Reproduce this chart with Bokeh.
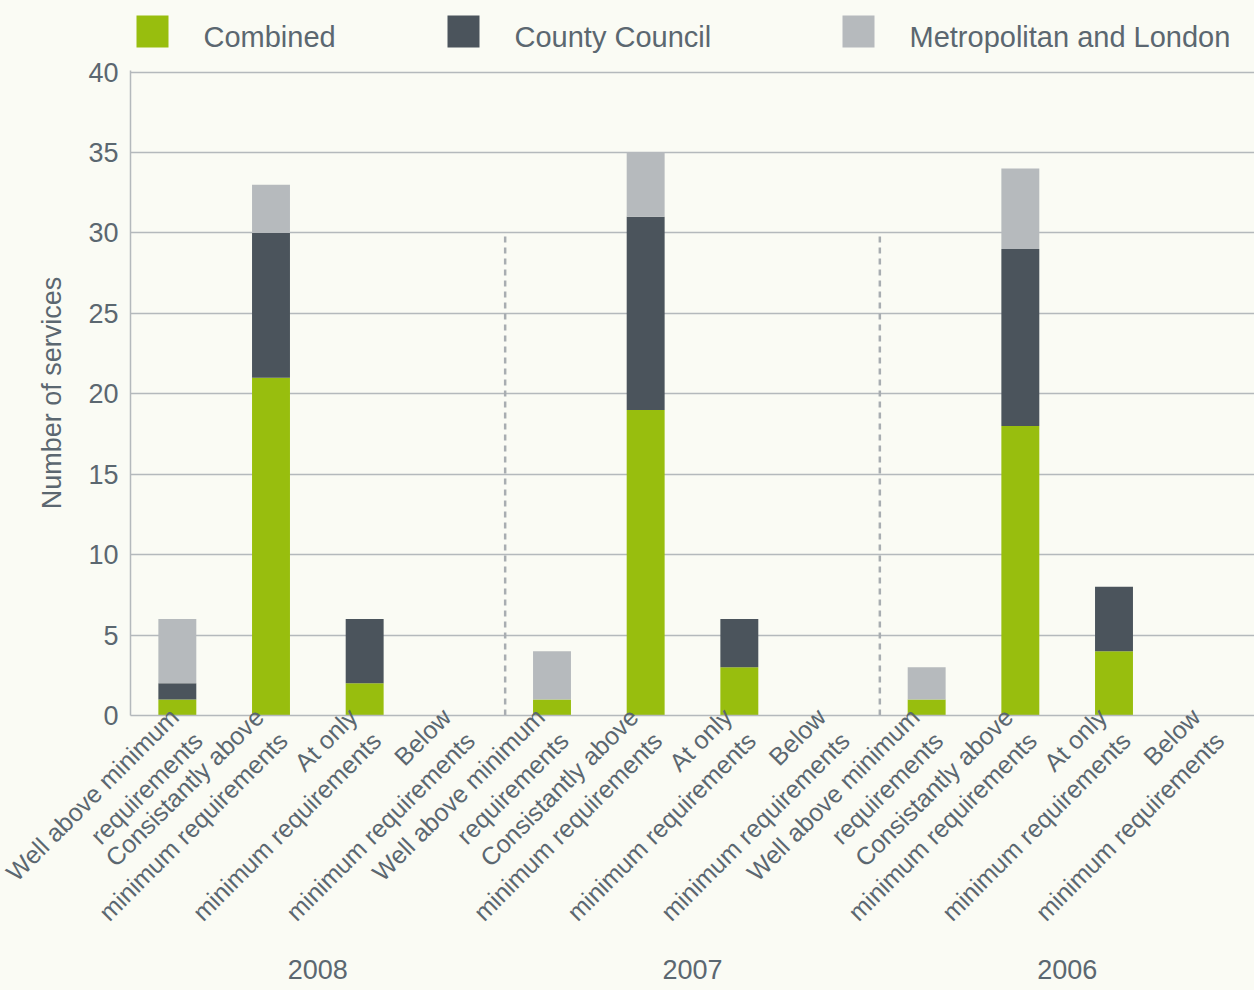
import math
from bokeh.plotting import figure
from bokeh.layouts import column
from bokeh.models import ColumnDataSource, Range1d, FactorRange, FixedTicker
from bokeh.embed import file_html
from bokeh.resources import INLINE
from bokeh.core.properties import value

# ---------------- data ----------------
years = ["2008", "2007", "2006"]
categories = [
    "Well above minimum\nrequirements",
    "Consistantly above\nminimum requirements",
    "At only\nminimum requirements",
    "Below\nminimum requirements",
]
series_names = ["Combined", "County Council", "Metropolitan and London"]
combined = [1, 21, 2, 0, 1, 19, 3, 0, 1, 18, 4, 0]
county_council = [1, 9, 4, 0, 0, 12, 3, 0, 0, 11, 4, 0]
metropolitan_london = [4, 3, 0, 0, 3, 4, 0, 0, 2, 5, 0, 0]
y_ticks = [0, 5, 10, 15, 20, 25, 30, 35, 40]

# ---------------- style ----------------
BG = "#fafbf4"
TEXT = "#5b6770"
GRID = "#b4b9bc"
COLORS = ["#98be0e", "#4b545c", "#b6babd"]
FONT = "Liberation Sans"
W = 1254
H = 990
LEG_H = 56
FRAME_LEFT = 130
LEGEND_X = [136, 447, 842]      # left edge of each legend swatch (px)
SWATCH = 32
LABEL_GAP = 35

# ---------------- legend strip ----------------
lg = figure(width=W, height=LEG_H, x_range=Range1d(FRAME_LEFT, W),
            y_range=Range1d(LEG_H, 0), output_backend="svg", toolbar_location=None,
            x_axis_type=None, y_axis_type=None, min_border=0,
            min_border_left=FRAME_LEFT, outline_line_color=None,
            background_fill_color=BG, border_fill_color=BG)
lg.xgrid.visible = False
lg.ygrid.visible = False
lsrc = ColumnDataSource(dict(
    left=LEGEND_X,
    right=[x + SWATCH for x in LEGEND_X],
    top=[15] * len(series_names),
    bottom=[15 + SWATCH] * len(series_names),
    tx=[x + SWATCH + LABEL_GAP for x in LEGEND_X],
    ty=[36] * len(series_names),
    name=series_names,
    color=COLORS,
))
lg.quad(left="left", right="right", top="top", bottom="bottom", fill_color="color",
        line_color=None, source=lsrc)
lg.text(x="tx", y="ty", text="name", source=lsrc, text_align="left",
        text_baseline="middle", text_font=value(FONT), text_font_size="29px",
        text_color=TEXT)

# ---------------- main chart ----------------
factors = [(y, c) for y in years for c in categories]

src = ColumnDataSource(dict(
    x=factors,
    combined=combined,
    county=county_council,
    metro=metropolitan_london,
))

x_range = FactorRange(*factors, factor_padding=0, group_padding=0, range_padding=0)

p = figure(width=W, height=H - LEG_H, x_range=x_range, y_range=Range1d(0, 40.1),
           output_backend="svg", toolbar_location=None,
           min_border_left=FRAME_LEFT, min_border_right=0, min_border_top=70 - LEG_H,
           min_border_bottom=275, background_fill_color=BG, border_fill_color=BG,
           outline_line_color=None)

p.vbar_stack(["combined", "county", "metro"], x="x", width=0.405,
             color=COLORS, line_color=None, source=src)

# dashed separators between year groups
sep_x = [(years[g], categories[0], -0.5) for g in range(1, len(years))]
p.segment(x0=sep_x, y0=[0] * len(sep_x), x1=sep_x, y1=[30] * len(sep_x),
          line_color="#a8adb1", line_width=2.5, line_dash="6 5")

# x axis (categorical, two levels)
xa = p.xaxis[0]
xa.axis_line_color = GRID
xa.axis_line_width = 1.5
xa.major_tick_line_color = None
xa.minor_tick_line_color = None
xa.major_tick_out = 0
xa.major_label_orientation = math.pi / 4
xa.major_label_text_font = FONT
xa.major_label_text_font_size = "25px"
xa.major_label_text_color = TEXT
xa.major_label_standoff = 9
xa.group_text_font = FONT
xa.group_text_font_size = "27px"
xa.group_text_font_style = "normal"
xa.group_text_color = TEXT
xa.separator_line_color = None
p.xgrid.visible = False

# y axis
yax = p.yaxis[0]
yax.ticker = FixedTicker(ticks=y_ticks)
p.ygrid.ticker = FixedTicker(ticks=y_ticks)
p.ygrid.grid_line_color = GRID
p.ygrid.grid_line_width = 1.5
yax.axis_label = "Number of services"
yax.axis_label_text_font = FONT
yax.axis_label_text_font_style = "normal"
yax.axis_label_text_font_size = "27px"
yax.axis_label_text_color = TEXT
yax.axis_label_standoff = 18
yax.major_label_text_font = FONT
yax.major_label_text_font_size = "27px"
yax.major_label_text_color = TEXT
yax.major_label_standoff = 12
yax.major_tick_out = 0
yax.major_tick_line_color = None
yax.minor_tick_line_color = None
yax.axis_line_color = GRID
yax.axis_line_width = 1.5

layout = column(lg, p, spacing=0)
layout.styles = {"background-color": BG}

html = file_html(layout, INLINE)
html = html.replace("<body>", '<body style="background:%s">' % BG, 1)
open("out.html", "w").write(html)
